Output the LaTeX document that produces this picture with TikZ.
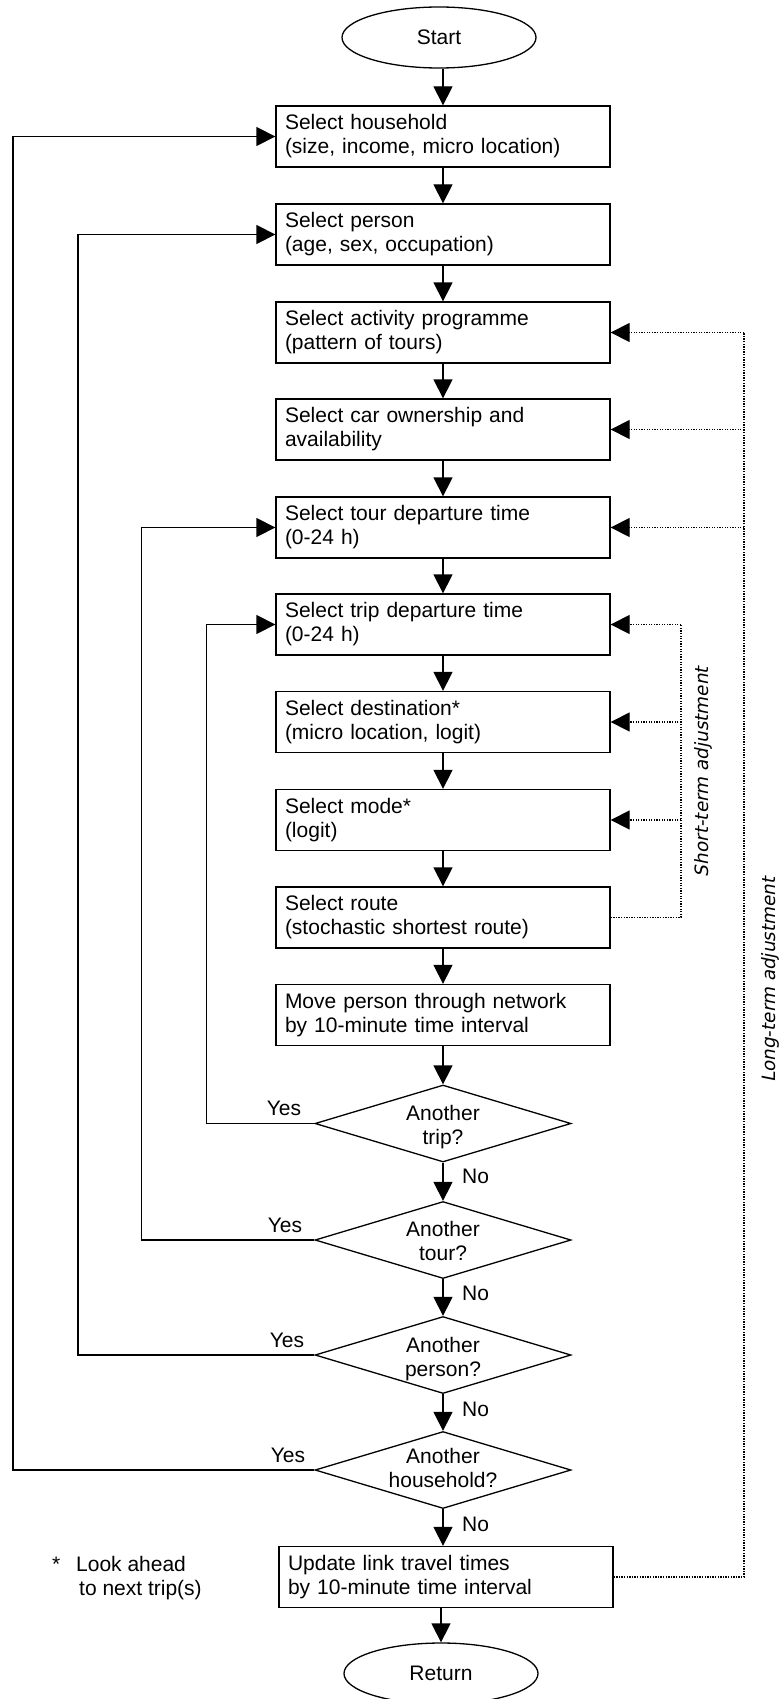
\documentclass[tikz,border=0pt]{standalone}
\usepackage{fontspec}
\setmainfont{Liberation Sans}
\newfontfamily\djvslant[FakeSlant=0.2]{DejaVu Sans}
\usetikzlibrary{arrows.meta,shapes.geometric}
\begin{document}
\begin{tikzpicture}[x=1pt,y=-1pt,
  every node/.style={font=\fontsize{21}{24}\selectfont},
  box/.style={draw, line width=1.3pt, minimum width=334pt, minimum height=61pt, text width=316pt, align=left, inner xsep=9pt, inner ysep=0pt},
  term/.style={draw, ellipse, line width=1.3pt, minimum width=194pt, minimum height=61pt, inner sep=0pt},
  dec/.style={draw, diamond, line width=1.3pt, minimum width=256pt, minimum height=77pt, inner sep=0pt},
  dectext/.style={align=center, inner sep=0pt},
  tip/.style={-{Triangle[length=19pt,width=19pt]}},
  arr/.style={line width=1.3pt, tip},
  dotl/.style={line width=1.3pt, dash pattern=on 1.3pt off 1.3pt},
  lbl/.style={inner sep=0pt},
  rot/.style={rotate=90, inner sep=0pt, font=\djvslant\fontsize{18.4}{22}\selectfont}
]
\useasboundingbox (0,0) rectangle (781,1699);

% main column
\node[term] (start) at (439,37.5) {Start};
\node[box] (hh) at (443,136.5) {Select household\\(size, income, micro location)};
\node[box] (pers) at (443,234.5) {Select person\\(age, sex, occupation)};
\node[box] (act) at (443,332.5) {Select activity programme\\(pattern of tours)};
\node[box] (car) at (443,429.5) {Select car ownership and\\availability};
\node[box] (tour) at (443,527.5) {Select tour departure time\\(0-24 h)};
\node[box] (trip) at (443,624.5) {Select trip departure time\\(0-24 h)};
\node[box] (dest) at (443,722) {Select destination*\\(micro location, logit)};
\node[box] (mode) at (443,820) {Select mode*\\(logit)};
\node[box] (route) at (443,917.5) {Select route\\(stochastic shortest route)};
\node[box] (move) at (443,1015) {Move person through network\\by 10-minute time interval};

\node[dec] (dtrip) at (443,1123.5) {};
\node[dectext] (ttrip) at (443,1127.5) {Another\\trip?};
\node[dec] (dtour) at (443,1240) {};
\node[dectext] (ttour) at (443,1241) {Another\\tour?};
\node[dec] (dpers) at (443,1355) {};
\node[dectext] (tpers) at (443,1359) {Another\\person?};
\node[dec] (dhh) at (443,1470) {};
\node[dectext] (thh) at (443,1468) {Another\\household?};

\node[box] (upd) at (446,1577) {Update link travel times\\by 10-minute time interval};
\node[term] (ret) at (441,1673.5) {Return};

% main arrows
\draw[arr] (start.south -| hh.north) -- (hh.north);
\draw[arr] (hh) -- (pers);
\draw[arr] (pers) -- (act);
\draw[arr] (act) -- (car);
\draw[arr] (car) -- (tour);
\draw[arr] (tour) -- (trip);
\draw[arr] (trip) -- (dest);
\draw[arr] (dest) -- (mode);
\draw[arr] (mode) -- (route);
\draw[arr] (route) -- (move);
\draw[arr] (move) -- (dtrip);
\draw[arr] (dtrip) -- (dtour);
\draw[arr] (dtour) -- (dpers);
\draw[arr] (dpers) -- (dhh);
\draw[arr] (dhh.south) -- (dhh.south |- upd.north);
\draw[arr] (upd.south -| ret.north) -- (ret.north);

% No labels
\node[lbl, anchor=west] (no1) at (462,1176) {No};
\node[lbl, anchor=west] (no2) at (462,1293) {No};
\node[lbl, anchor=west] (no3) at (462,1409) {No};
\node[lbl, anchor=west] (no4) at (462,1524) {No};

% left loops
\coordinate (lhh) at (13,0);
\coordinate (lpers) at (78,0);
\coordinate (ltour) at (141.5,0);
\coordinate (ltrip) at (206.5,0);
\draw[arr] (dtrip.west) -- (dtrip.west -| ltrip) |- (trip.west);
\draw[arr] (dtour.west) -- (dtour.west -| ltour) |- (tour.west);
\draw[arr] (dpers.west) -- (dpers.west -| lpers) |- (pers.west);
\draw[arr] (dhh.west) -- (dhh.west -| lhh) |- (hh.west);

\node[lbl, anchor=base east] (y1) at ([shift={(-13,-8)}]dtrip.west) {Yes};
\node[lbl, anchor=base east] (y2) at ([shift={(-12,-8)}]dtour.west) {Yes};
\node[lbl, anchor=base east] (y3) at ([shift={(-10,-8)}]dpers.west) {Yes};
\node[lbl, anchor=base east] (y4) at ([shift={(-9,-8)}]dhh.west) {Yes};

% right side: short-term adjustment
\coordinate (st) at (681,0);
\draw[dotl] (route.east) -- (route.east -| st) -- (trip.east -| st);
\draw[dotl,tip] (trip.east -| st) -- (trip.east);
\draw[dotl,tip] (dest.east -| st) -- (dest.east);
\draw[dotl,tip] (mode.east -| st) -- (mode.east);

% right side: long-term adjustment
\coordinate (lt) at (744,0);
\draw[dotl] (upd.east) -- (upd.east -| lt) -- (act.east -| lt);
\draw[dotl,tip] (act.east -| lt) -- (act.east);
\draw[dotl,tip] (car.east -| lt) -- (car.east);
\draw[dotl,tip] (tour.east -| lt) -- (tour.east);

\node[rot] (stl) at (703,772) {Short-term adjustment};
\node[rot] (ltl) at (770,980) {Long-term adjustment};

% footnote
\node[lbl, anchor=base west] (fn1) at (52,1571) {*\hspace{15.8pt}Look ahead};
\node[lbl, anchor=base west] (fn2) at (79,1595) {to next trip(s)};
\end{tikzpicture}
\end{document}
